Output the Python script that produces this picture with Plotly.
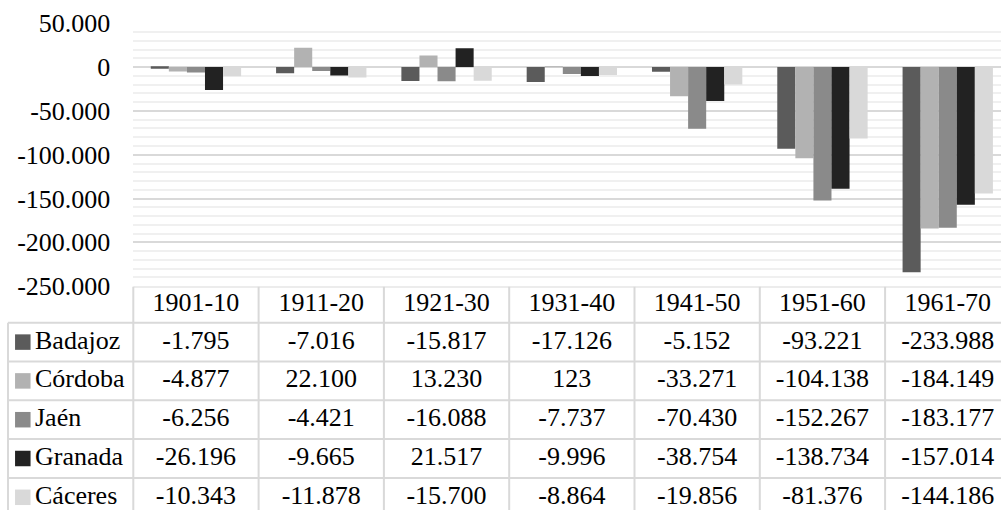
import plotly.graph_objects as go

# ---------------- data ----------------
PERIODS = ["1901-10", "1911-20", "1921-30", "1931-40", "1941-50", "1951-60", "1961-70"]
PROVINCES = ["Badajoz", "Córdoba", "Jaén", "Granada", "Cáceres"]
BADAJOZ = [-1795, -7016, -15817, -17126, -5152, -93221, -233988]
CORDOBA = [-4877, 22100, 13230, 123, -33271, -104138, -184149]
JAEN = [-6256, -4421, -16088, -7737, -70430, -152267, -183177]
GRANADA = [-26196, -9665, 21517, -9996, -38754, -138734, -157014]
CACERES = [-10343, -11878, -15700, -8864, -19856, -81376, -144186]
SERIES = [BADAJOZ, CORDOBA, JAEN, GRANADA, CACERES]
Y_TICKVALS = [50000, 0, -50000, -100000, -150000, -200000, -250000]
Y_TICKTEXT = ["50.000", "0", "-50.000", "-100.000", "-150.000", "-200.000", "-250.000"]

# ---------------- style / layout constants ----------------
COLORS = ["#5b5b5b", "#b2b2b2", "#8a8a8a", "#222222", "#d9d9d9"]
FONT = "Liberation Serif"
FS = 26
W, H = 1001, 510
PLOT_L = 133.3          # px, left edge of bar plot area / first data column
CAT_W = 125.3           # px, width of one category / table column
PLOT_TOP = 23.3         # px from top
TABLE_TOP = 286.5       # px from top
HEADER_H = 36.2
ROW_H = 38.8
GRID = "#d9d9d9"
MINOR = "#f0f0f0"
TLINE = "#d9d9d9"

x_right = (W - PLOT_L) / CAT_W - 0.5          # right end of category range
x2_left = -0.5 - PLOT_L / CAT_W                # table axis left end
table_h = H - TABLE_TOP
col_idx = list(range(len(PERIODS)))


def fmt(v):
    return f"{v:,}".replace(",", ".")


fig = go.Figure()

# bars (positioned on the category index axis, labelled by period)
for name, vals, col in zip(PROVINCES, SERIES, COLORS):
    fig.add_trace(go.Bar(x=col_idx, y=vals, name=name, hovertext=PERIODS,
                         marker=dict(color=col, line=dict(width=0)),
                         xaxis="x", yaxis="y", showlegend=False))

# table: header years
header_y = HEADER_H / 2
fig.add_trace(go.Scatter(x=col_idx, y=[header_y] * len(PERIODS), text=PERIODS, mode="text",
                         textposition="middle center", textfont=dict(family=FONT, size=FS, color="black"),
                         xaxis="x2", yaxis="y2", showlegend=False, hoverinfo="skip", cliponaxis=False))

# table: value rows
for r, (name, vals, col) in enumerate(zip(PROVINCES, SERIES, COLORS)):
    ry = HEADER_H + ROW_H * (r + 0.5)
    fig.add_trace(go.Scatter(x=col_idx, y=[ry] * len(vals), text=[fmt(v) for v in vals], mode="text",
                             textposition="middle center", textfont=dict(family=FONT, size=FS, color="black"),
                             xaxis="x2", yaxis="y2", showlegend=False, hoverinfo="skip", cliponaxis=False))
    fig.add_trace(go.Scatter(x=[x2_left + 22.8 / CAT_W], y=[ry], mode="markers",
                             marker=dict(symbol="square", size=15.5, color=col, line=dict(width=0)),
                             xaxis="x2", yaxis="y2", showlegend=False, hoverinfo="skip", cliponaxis=False))
    fig.add_trace(go.Scatter(x=[x2_left + 35 / CAT_W], y=[ry], text=[name], mode="text",
                             textposition="middle right", textfont=dict(family=FONT, size=FS, color="black"),
                             xaxis="x2", yaxis="y2", showlegend=False, hoverinfo="skip", cliponaxis=False))

# table grid lines
shapes = []
shapes.append(dict(type="line", xref="x2", yref="y2", x0=-0.5, x1=x_right + 1, y0=0, y1=0,
                   line=dict(color=TLINE, width=2)))
for k in range(len(PROVINCES) + 1):
    yy = HEADER_H + ROW_H * k
    shapes.append(dict(type="line", xref="x2", yref="y2", x0=-1.5, x1=x_right + 1, y0=yy, y1=yy,
                       line=dict(color=TLINE, width=2)))
shapes.append(dict(type="line", xref="x2", yref="y2", x0=-1.5, x1=-1.5, y0=HEADER_H, y1=table_h + 20,
                   line=dict(color=TLINE, width=2)))
for i in range(len(PERIODS) + 1):
    xx = i - 0.5
    shapes.append(dict(type="line", xref="x2", yref="y2", x0=xx, x1=xx, y0=0, y1=table_h + 20,
                       line=dict(color=TLINE, width=2)))

fig.update_layout(
    template="none",
    width=W, height=H, autosize=False,
    margin=dict(l=0, r=0, t=0, b=0, pad=0),
    paper_bgcolor="white", plot_bgcolor="rgba(0,0,0,0)",
    barmode="group", bargap=0.279, bargroupgap=0,
    font=dict(family=FONT, size=FS, color="black"),
    showlegend=False,
    shapes=shapes,
    xaxis=dict(domain=[PLOT_L / W, 1], range=[-0.5, x_right], showticklabels=False, showgrid=False,
               zeroline=False, showline=False, ticks="", anchor="y", fixedrange=True, automargin=False),
    yaxis=dict(domain=[1 - TABLE_TOP / H + 0.0006, 1 - PLOT_TOP / H], range=[-250000, 50000],
               tickmode="array", tickvals=Y_TICKVALS, ticktext=Y_TICKTEXT,
               tickfont=dict(family=FONT, size=FS, color="black"),
               showgrid=True, gridcolor=GRID, gridwidth=2,
               zeroline=True, zerolinecolor=GRID, zerolinewidth=2,
               minor=dict(dtick=10000, tick0=0, showgrid=True, gridcolor=MINOR, gridwidth=2),
               showline=False, ticks="", ticklabelstandoff=22, anchor="x", fixedrange=True,
               automargin=False),
    xaxis2=dict(domain=[0, 1], range=[x2_left, x_right], visible=False, anchor="y2", fixedrange=True,
                automargin=False),
    yaxis2=dict(domain=[0, 1 - TABLE_TOP / H], range=[table_h, 0], visible=False, anchor="x2",
                fixedrange=True, automargin=False),
)

fig.write_html("out.html", config={"displayModeBar": False},
               post_script="document.body.style.margin='0';document.body.style.overflow='hidden';")
